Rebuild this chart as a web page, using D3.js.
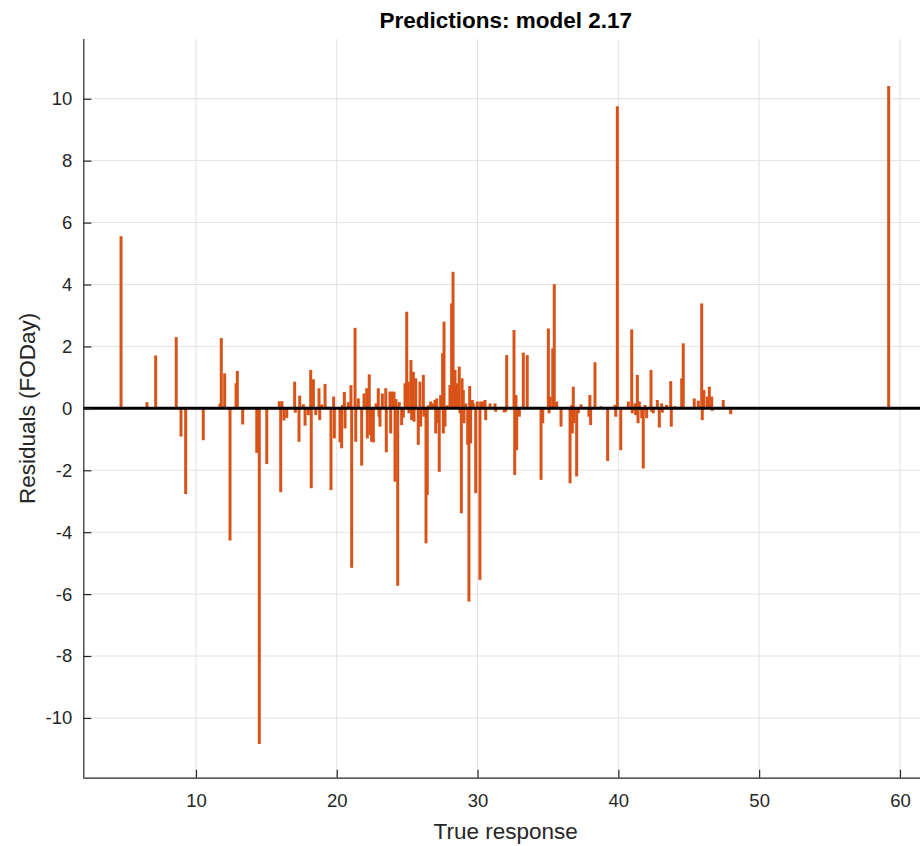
<!DOCTYPE html>
<html><head><meta charset="utf-8">
<script src="https://cdn.jsdelivr.net/npm/d3@7"></script>
<style>body{margin:0;background:#fff} text{font-family:"Liberation Sans",Arial,Helvetica,sans-serif}</style>
</head><body><svg id="c" width="920" height="846"></svg>
<script>
const trueResponse = [4.68,6.52,7.14,8.60,8.94,9.27,10.52,11.71,11.80,12.04,12.42,12.85,12.94,13.32,14.32,14.50,15.03,15.92,16.02,16.11,16.25,16.45,
17.01,17.06,17.32,17.37,17.63,17.75,17.98,18.15,18.19,18.34,18.51,18.74,18.79,18.93,19.17,19.40,19.59,19.78,19.83,20.23,20.35,20.40,20.54,20.59,20.82,
21.01,21.06,21.30,21.35,21.53,21.77,21.94,22.13,22.17,22.31,22.36,22.48,22.60,22.79,22.95,23.00,23.07,23.24,23.48,23.52,23.78,23.83,23.90,24.07,24.14,
24.21,24.33,24.44,24.61,24.73,24.85,24.97,25.08,25.13,25.27,25.32,25.44,25.49,25.61,25.79,25.91,25.96,26.15,26.19,26.34,26.43,26.50,26.67,26.81,26.98,
27.03,27.10,27.14,27.28,27.38,27.52,27.57,27.62,27.69,27.85,28.04,28.16,28.26,28.40,28.56,28.70,28.75,28.85,28.90,28.99,29.04,29.16,29.30,29.39,29.44,
29.51,29.63,29.70,29.87,29.98,30.17,30.22,30.36,30.53,30.58,30.89,31.24,31.29,31.90,31.95,32.00,32.07,32.59,32.64,32.73,32.78,32.97,33.25,33.53,34.51,
34.63,35.03,35.08,35.15,35.34,35.45,35.62,35.93,36.57,36.69,36.73,36.80,36.85,37.04,37.16,37.35,37.86,37.91,37.98,38.03,38.34,38.77,39.24,39.36,39.76,
39.81,39.93,40.17,40.35,40.71,40.95,40.99,41.18,41.23,41.35,41.40,41.49,41.66,41.77,41.89,42.01,42.32,42.37,42.48,42.77,42.91,43.08,43.12,43.43,43.72,
43.76,44.02,44.50,44.61,45.39,45.68,45.92,45.96,46.08,46.32,46.46,46.63,46.67,47.45,47.98,59.20];
const residuals = [5.56,0.20,1.71,2.30,-0.91,-2.77,-1.03,0.16,2.27,1.13,-4.27,0.81,1.21,-0.52,-1.44,-10.84,-1.80,0.23,-2.71,0.23,-0.39,-0.31,
0.86,-0.14,-1.08,0.41,0.13,-0.56,-0.22,1.24,-2.58,0.94,-0.22,0.65,-0.38,0.13,0.79,0.05,-2.64,0.38,-0.97,-1.10,-1.29,0.11,0.53,-0.65,0.20,
0.75,-5.15,2.60,-1.08,0.32,-1.85,0.48,0.65,-0.97,1.10,-0.86,-1.08,-1.10,0.16,0.65,-0.27,-0.59,0.48,0.65,-1.42,0.54,-0.81,0.54,0.54,-2.37,
0.30,-5.73,0.20,-0.54,-0.30,0.81,3.12,0.86,-0.16,1.56,-0.38,1.18,-0.43,0.97,-1.18,0.86,-0.59,1.08,-0.27,-4.36,-2.80,0.10,0.22,0.16,0.27,
-0.81,0.32,-0.48,-2.05,0.43,1.78,-0.81,2.80,-0.59,0.10,0.75,3.39,4.41,1.24,0.81,1.35,-0.16,-3.39,0.97,0.59,-0.48,0.16,-1.18,-6.24,0.72,
-1.13,0.27,0.16,-2.74,0.22,-5.54,0.22,0.22,0.27,-0.38,0.16,0.16,-0.11,-0.13,0.05,-0.11,1.72,2.53,-2.15,0.43,-1.35,-0.27,1.80,1.72,-2.31,
-0.48,2.58,-0.16,0.38,1.94,4.01,0.22,-0.59,-2.42,0.11,-0.81,0.70,-0.48,-2.20,-0.16,0.13,0.05,-0.27,0.43,-0.54,1.49,0.07,-1.70,0.05,0.11,
-0.27,9.76,-1.35,0.05,0.22,2.55,-0.16,0.16,-0.22,1.08,-0.48,0.22,-0.32,-1.94,0.11,-0.32,1.24,-0.11,-0.16,0.27,-0.62,0.16,-0.14,0.11,0.88,
-0.59,0.07,0.97,2.10,0.32,0.25,3.39,-0.38,0.59,0.38,0.70,0.38,-0.08,0.27,-0.19,10.41];
const xTicks = [10,20,30,40,50,60];
const yTicks = [-10,-8,-6,-4,-2,0,2,4,6,8,10];
const titleText = "Predictions: model 2.17";
const xLabel = "True response";
const yLabel = "Residuals (FODay)";

const svg = d3.select("#c");
svg.append("rect").attr("width",920).attr("height",846).attr("fill","#fff");
const L = 83.3, T = 39, B = 777.7;
const x = d3.scaleLinear().domain([2,62]).range([L, L + 60*14.08]);
const y = d3.scaleLinear().domain([-11.93,11.93]).range([B, T]);
const axisCol = "#262626";

// grid
const g = svg.append("g");
g.selectAll("line.gx").data(xTicks).join("line")
  .attr("x1",d=>x(d)).attr("x2",d=>x(d)).attr("y1",T).attr("y2",B)
  .attr("stroke","#e3e3e3").attr("stroke-width",1);
g.selectAll("line.gy").data(yTicks).join("line")
  .attr("y1",d=>y(d)).attr("y2",d=>y(d)).attr("x1",L).attr("x2",x(62))
  .attr("stroke","#e3e3e3").attr("stroke-width",1);

// stems
const data = trueResponse.map((v,i)=>({x:v,r:residuals[i]}));
svg.append("g").selectAll("line").data(data).join("line")
  .attr("x1",d=>x(d.x)).attr("x2",d=>x(d.x))
  .attr("y1",y(0)).attr("y2",d=>y(d.r))
  .attr("stroke","#D95319").attr("stroke-width",3);

// zero line
svg.append("line").attr("x1",L).attr("x2",x(62)).attr("y1",y(0)).attr("y2",y(0))
  .attr("stroke","#000").attr("stroke-width",3);

// axes
const xAxis = d3.axisBottom(x).tickValues(xTicks).tickSize(-8).tickPadding(16).tickFormat(d3.format("d"));
const gx = svg.append("g").attr("transform",`translate(0,${B})`).call(xAxis);
const yAxis = d3.axisLeft(y).tickValues(yTicks).tickSize(-8).tickPadding(11).tickFormat(d=>d<0?"-"+Math.abs(d):d);
const gy = svg.append("g").attr("transform",`translate(${L},0)`).call(yAxis);
[gx,gy].forEach(a=>{
  a.select(".domain").attr("stroke",axisCol).attr("stroke-width",1.2);
  a.selectAll(".tick line").attr("stroke",axisCol).attr("stroke-width",1.2);
  a.selectAll(".tick text").attr("fill",axisCol).style("font-size","18.5px")
   .style("font-family",'"Liberation Sans",Arial,sans-serif');
});
gx.select(".domain").attr("d",`M${L},0.5H${x(62)}`);
gy.select(".domain").attr("d",`M0.5,${B}V${T}`);

svg.append("text").attr("x",(L+x(62))/2).attr("y",28).attr("text-anchor","middle")
  .attr("font-weight","bold").attr("font-size","22.5px").attr("fill","#000").text(titleText);
svg.append("text").attr("x",(L+x(62))/2).attr("y",839).attr("text-anchor","middle")
  .attr("font-size","22.5px").attr("fill",axisCol).text(xLabel);
svg.append("text").attr("transform",`translate(35,${(T+B)/2}) rotate(-90)`).attr("text-anchor","middle")
  .attr("font-size","22.5px").attr("fill",axisCol).text(yLabel);
</script></body></html>
